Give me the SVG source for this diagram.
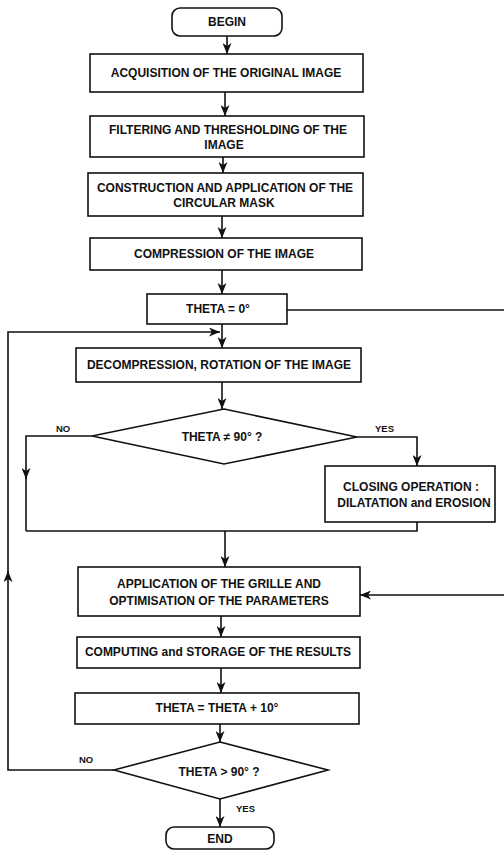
<svg xmlns="http://www.w3.org/2000/svg" width="504" height="851" viewBox="0 0 504 851">
<style>
.box{fill:#fff;stroke:#111;stroke-width:1.6}
.t{font-family:"Liberation Sans",Arial,Helvetica,sans-serif;font-weight:bold;font-size:12px;fill:#111;text-anchor:middle;dominant-baseline:central}
.lbl{font-family:"Liberation Sans",Arial,Helvetica,sans-serif;font-weight:bold;font-size:9.5px;fill:#111;dominant-baseline:central}
.c{fill:none;stroke:#111;stroke-width:1.6}
.ca{fill:none;stroke:#111;stroke-width:1.6;marker-end:url(#ah)}
</style>
<defs>
<marker id="ah" markerUnits="userSpaceOnUse" markerWidth="12" markerHeight="9" refX="11" refY="4.5" orient="auto">
<path d="M0,0 L11,4.5 L0,9 L3,4.5 Z" fill="#111"/>
</marker>
</defs>
<rect width="504" height="851" fill="#fff"/>
<g id="connectors">
<path class="ca" d="M227,36 V54"/>
<path class="ca" d="M225,92 V116"/>
<path class="ca" d="M223,157 V173"/>
<path class="ca" d="M222,216 V238"/>
<path class="ca" d="M222,270 V294"/>
<path class="ca" d="M222,324 V348"/>
<path class="c" d="M287,310 H504"/>
<path class="ca" d="M222,382 V409"/>
<path class="ca" d="M92,436 H26 V479"/>
<path class="c" d="M26,476 V531"/>
<path class="ca" d="M357,437 H417 V466"/>
<path class="c" d="M417,522 V531 H26"/>
<path class="ca" d="M225,531 V567"/>
<path class="ca" d="M504,595 H360"/>
<path class="ca" d="M221,616 V637"/>
<path class="ca" d="M221,668 V693"/>
<path class="ca" d="M220,724 V742"/>
<path class="ca" d="M220,799 V827"/>
<path class="ca" d="M114,770 H8 V571"/>
<path class="ca" d="M8,574 V332 H220"/>
</g>
<g id="begin">
<rect class="box" x="172" y="8" width="110" height="28" rx="8"/>
<text class="t" x="227" y="22">BEGIN</text>
</g>
<g id="acquisition">
<rect class="box" x="90" y="54" width="273" height="38"/>
<text class="t" x="226" y="73">ACQUISITION OF THE ORIGINAL  IMAGE</text>
</g>
<g id="filtering">
<rect class="box" x="90" y="116" width="274" height="41"/>
<text class="t" x="228" y="130">FILTERING AND THRESHOLDING OF THE</text>
<text class="t" x="224" y="145">IMAGE</text>
</g>
<g id="construction">
<rect class="box" x="88" y="173" width="275" height="43"/>
<text class="t" x="225" y="188">CONSTRUCTION AND APPLICATION OF THE</text>
<text class="t" x="224" y="203">CIRCULAR MASK</text>
</g>
<g id="compression">
<rect class="box" x="90" y="238" width="272" height="32"/>
<text class="t" x="224" y="254">COMPRESSION OF THE IMAGE</text>
</g>
<g id="theta0">
<rect class="box" x="147" y="294" width="140" height="30"/>
<text class="t" x="218" y="309">THETA = 0°</text>
</g>
<g id="decompression">
<rect class="box" x="76" y="348" width="285" height="34"/>
<text class="t" x="219" y="365">DECOMPRESSION,  ROTATION OF THE IMAGE</text>
</g>
<g id="decision1">
<polygon class="box" points="224,409 357,437 224,464 92,436"/>
<text class="t" x="222" y="437">THETA ≠ 90° ?</text>
<text class="lbl" x="56" y="428">NO</text>
<text class="lbl" x="375" y="428">YES</text>
</g>
<g id="closing">
<rect class="box" x="325" y="466" width="170" height="56"/>
<text class="t" x="411" y="487">CLOSING OPERATION :</text>
<text class="t" x="414" y="503">DILATATION and EROSION</text>
</g>
<g id="application">
<rect class="box" x="78" y="567" width="282" height="49"/>
<text class="t" x="219" y="584">APPLICATION OF THE GRILLE AND</text>
<text class="t" x="219" y="601">OPTIMISATION OF THE PARAMETERS</text>
</g>
<g id="computing">
<rect class="box" x="77" y="637" width="283" height="31"/>
<text class="t" x="218" y="652">COMPUTING and STORAGE OF THE RESULTS</text>
</g>
<g id="increment">
<rect class="box" x="75" y="693" width="284" height="31"/>
<text class="t" x="217" y="708">THETA = THETA + 10°</text>
</g>
<g id="decision2">
<polygon class="box" points="220,742 328,770 220,799 114,770"/>
<text class="t" x="219" y="772">THETA &gt; 90° ?</text>
<text class="lbl" x="79" y="759">NO</text>
<text class="lbl" x="236" y="808">YES</text>
</g>
<g id="end">
<rect class="box" x="166" y="827" width="108" height="22" rx="8"/>
<text class="t" x="220" y="839">END</text>
</g>
</svg>
